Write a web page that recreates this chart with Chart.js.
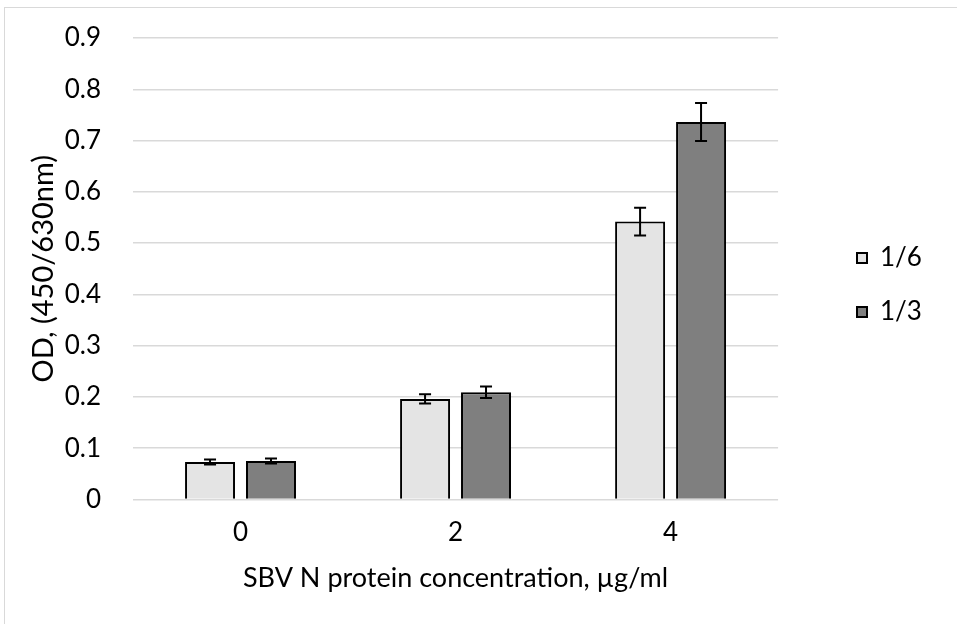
<!DOCTYPE html>
<html>
<head>
<meta charset="utf-8">
<script src="https://cdn.jsdelivr.net/npm/chart.js@4.4.0/dist/chart.umd.min.js"></script>
<style>
  html, body { margin: 0; padding: 0; background: #fff; }
  #wrap { position: relative; width: 957px; height: 624px; }
  #frame { position: absolute; left: 4px; top: 7px; right: -2px; bottom: -2px;
           border-left: 1px solid #d9d9d9; border-top: 1px solid #d9d9d9; }
  canvas { position: absolute; left: 0; top: 0; }
</style>
</head>
<body>
<div id="wrap">
  <div id="frame"></div>
  <canvas id="myChart" width="957" height="624"></canvas>
</div>
<script>
const categories = ["0", "2", "4"];
const serieNames = ["1/6", "1/3"];
const valores16 = [0.073, 0.196, 0.542];
const valores13 = [0.075, 0.209, 0.736];
const error16 = [0.005, 0.009, 0.027];
const error13 = [0.005, 0.011, 0.037];
const yMax = 0.9;
const yStep = 0.1;

const fuente = "Lato";
const tamano = 26;

// barras de error dibujadas con la escala y del grafico
const errorBars = {
  id: "errorBars",
  afterDatasetsDraw(chart) {
    const ctx = chart.ctx;
    const y = chart.scales.y;
    ctx.save();
    ctx.strokeStyle = "#000";
    ctx.lineWidth = 2;
    chart.data.datasets.forEach((ds, i) => {
      const meta = chart.getDatasetMeta(i);
      meta.data.forEach((bar, j) => {
        const v = ds.data[j];
        const e = ds.errores[j];
        const top = y.getPixelForValue(v + e);
        const bot = y.getPixelForValue(v - e);
        ctx.beginPath();
        ctx.moveTo(bar.x, top);
        ctx.lineTo(bar.x, bot);
        ctx.moveTo(bar.x - 6, top);
        ctx.lineTo(bar.x + 6, top);
        ctx.moveTo(bar.x - 6, bot);
        ctx.lineTo(bar.x + 6, bot);
        ctx.stroke();
      });
    });
    ctx.restore();
  }
};

// mover la leyenda como en el original
const moverLeyenda = {
  id: "moverLeyenda",
  afterLayout(chart) {
    const lg = chart.legend;
    const dx = 857 - (chart.chartArea.right + lg.options.labels.padding);
    lg.left += dx;
    lg.right += dx;
    const dy = 285 - (lg.top + lg.bottom) / 2;
    lg.top += dy;
    lg.bottom += dy;
  }
};

const ctx = document.getElementById("myChart").getContext("2d");
const myChart = new Chart(ctx, {
  type: "bar",
  data: {
    labels: categories,
    datasets: [
      {
        label: serieNames[0],
        data: valores16,
        errores: error16,
        backgroundColor: "#e4e4e4",
        borderColor: "#000",
        borderWidth: 2,
      },
      {
        label: serieNames[1],
        data: valores13,
        errores: error13,
        backgroundColor: "#7f7f7f",
        borderColor: "#000",
        borderWidth: 2,
      },
    ],
  },
  options: {
    responsive: false,
    animation: false,
    datasets: {
      bar: { categoryPercentage: 0.567, barPercentage: 0.82 },
    },
    layout: { padding: { left: 0, top: 38, right: 76, bottom: 30 } },
    plugins: {
      legend: {
        position: "right",
        labels: {
          font: { family: fuente, size: tamano },
          color: "#000",
          boxWidth: 10,
          boxHeight: 10,
          padding: 28,
        },
      },
      tooltip: { enabled: false },
    },
    scales: {
      x: {
        grid: { display: false },
        border: { display: false },
        ticks: { font: { family: fuente, size: tamano }, color: "#000", padding: 10 },
        title: {
          display: true,
          text: "SBV N protein concentration, µg/ml",
          font: { family: fuente, size: 27 },
          color: "#000",
          padding: { top: 3, bottom: 0 },
        },
      },
      y: {
        min: 0,
        max: yMax,
        ticks: {
          stepSize: yStep,
          font: { family: fuente, size: tamano },
          color: "#000",
          padding: 32,
          callback: (v) => (v === 0 ? "0" : v.toFixed(1)),
        },
        grid: { color: "#d9d9d9", lineWidth: 1.5, drawTicks: false },
        border: { display: false },
        title: {
          display: true,
          text: "OD, (450/630nm)",
          font: { family: fuente, size: 29 },
          color: "#000",
          padding: { top: 26, bottom: 0 },
        },
        afterFit: (s) => {
          s.width = 133;
          s.paddingTop = 0;
          s.paddingBottom = 0;
        },
      },
    },
  },
  plugins: [errorBars, moverLeyenda],
});
</script>
</body>
</html>
